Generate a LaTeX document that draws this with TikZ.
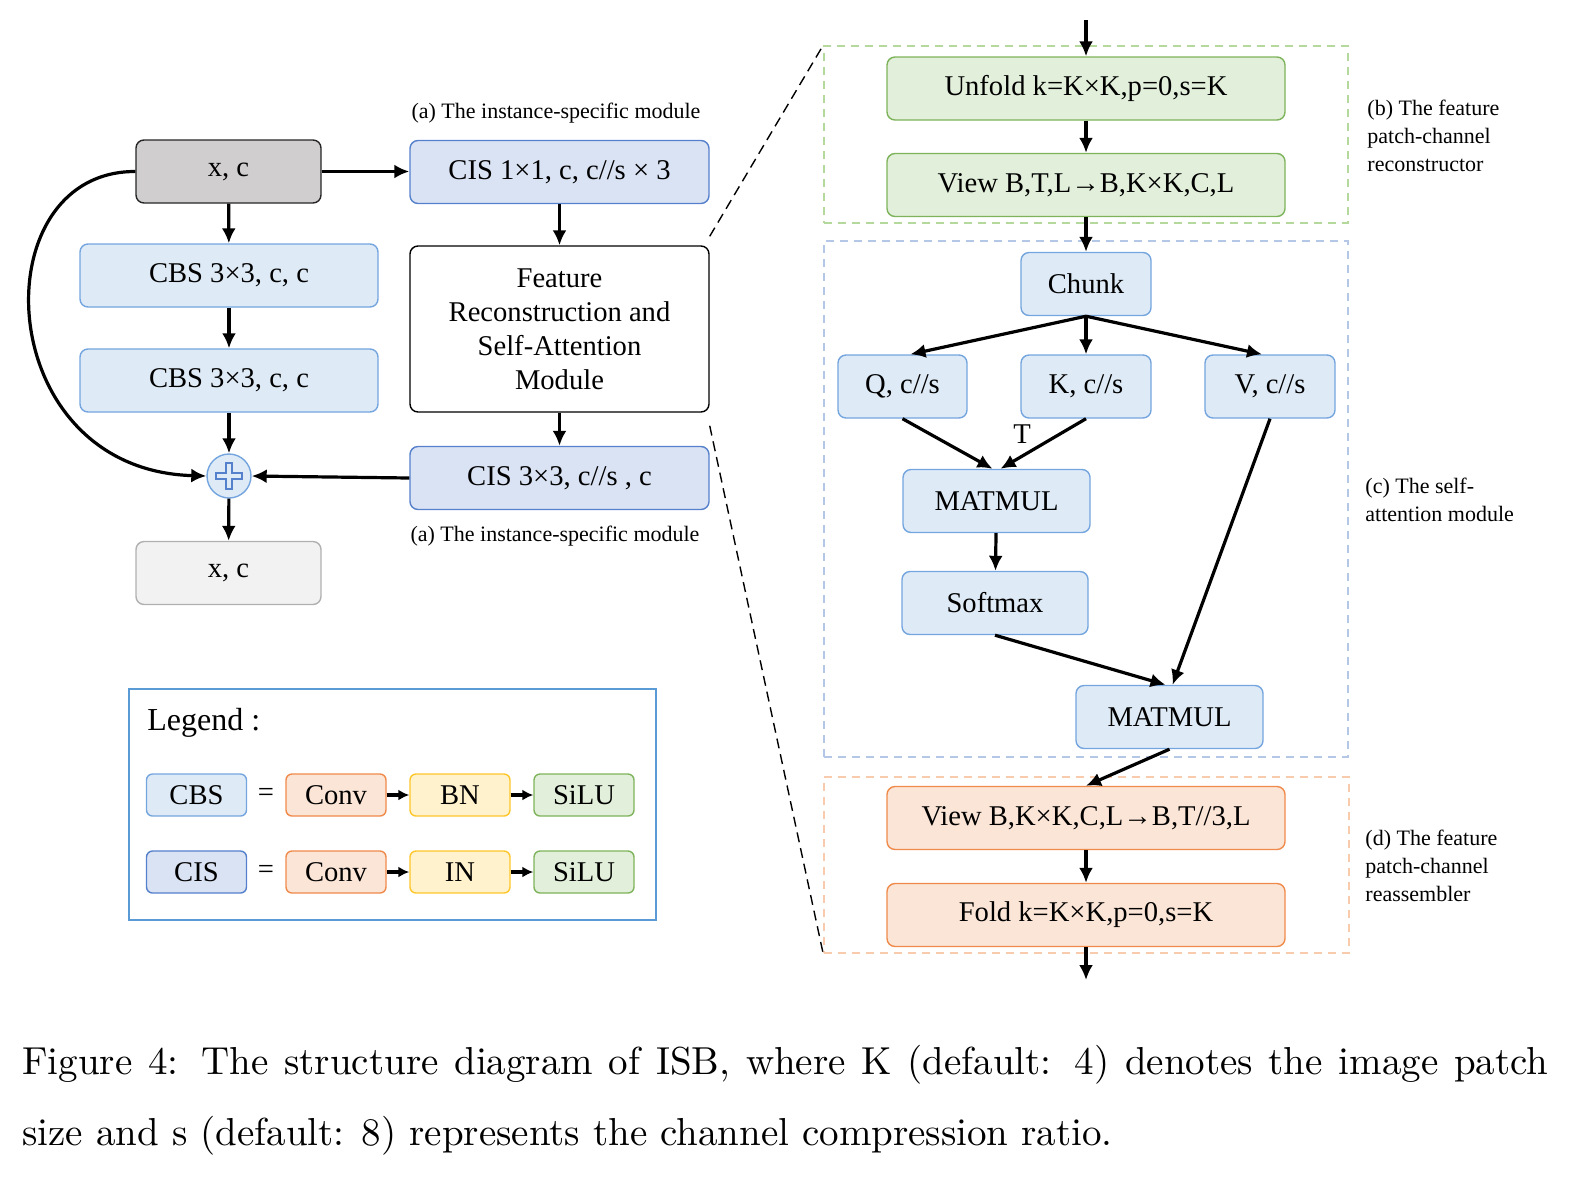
\documentclass[tikz,border=0pt]{standalone}
\usepackage{fontspec}
\usepackage{tikz}
\usetikzlibrary{arrows.meta}

\newfontfamily\tnr{Liberation Serif}
\newfontfamily\capfont[Extension=.otf]{lmroman10-regular}

\definecolor{cbsfill}{HTML}{DEEBF7}
\definecolor{cbsline}{HTML}{74A5DE}
\definecolor{cisfill}{HTML}{DAE3F3}
\definecolor{cisline}{HTML}{5580CC}
\definecolor{grnfill}{HTML}{E2EFDA}
\definecolor{grnline}{HTML}{7DB35A}
\definecolor{orgfill}{HTML}{FBE5D6}
\definecolor{orgline}{HTML}{EF8A4A}
\definecolor{yelfill}{HTML}{FFF2CC}
\definecolor{yelline}{HTML}{FFC629}
\definecolor{xinfill}{HTML}{D0CECE}
\definecolor{xoutfill}{HTML}{F2F2F2}
\definecolor{xoutline}{HTML}{B0B0B0}
\definecolor{grngrp}{HTML}{B5D99C}
\definecolor{blugrp}{HTML}{B4C7E7}
\definecolor{orggrp}{HTML}{F8CBAD}
\definecolor{legline}{HTML}{5B9BD5}

\begin{document}
\begin{tikzpicture}[x=0.5pt, y=-0.5pt,
  box/.style={draw, rounded corners=4pt, line width=0.7pt, inner sep=0pt,
    minimum height=31.5pt, font=\tnr\fontsize{14.3}{17}\selectfont},
  bluebox/.style={box, fill=cbsfill, draw=cbsline},
  cisbox/.style={box, fill=cisfill, draw=cisline},
  greenbox/.style={box, fill=grnfill, draw=grnline},
  orangebox/.style={box, fill=orgfill, draw=orgline},
  yellowbox/.style={box, fill=yelfill, draw=yelline},
  lgd/.style={minimum width=50pt, minimum height=21pt, rounded corners=3pt},
  grp/.style={draw, dashed, dash pattern=on 4pt off 3pt, line width=0.8pt},
  lbl/.style={inner sep=0pt, font=\tnr\fontsize{11}{14}\selectfont},
  arr/.style={-{Latex[length=7.5pt,width=7pt]}, line width=1.6pt},
  larr/.style={-{Latex[length=5.5pt,width=5.5pt]}, line width=1.6pt}]

  \useasboundingbox (0,0) rectangle (1593,1189);

  % left: main branch
  \node[box, fill=xinfill, draw=black!85, minimum width=92.5pt] (xin) at (228.5,171.5) {x, c};
  \node[bluebox, minimum width=149pt] (cbsa) at (229,275.5) {CBS 3×3, c, c};
  \node[bluebox, minimum width=149pt] (cbsb) at (229,380.5) {CBS 3×3, c, c};
  \node[circle, draw=cbsline, fill=cbsfill, line width=0.7pt, minimum size=22pt, inner sep=0pt] (plus) at (229,476) {};
  \draw[cisline, line width=0.6pt, shift={(plus.center)}] (-3,-13) -- (3,-13) -- (3,-3) -- (13,-3) -- (13,3) -- (3,3)
    -- (3,13) -- (-3,13) -- (-3,3) -- (-13,3) -- (-13,-3) -- (-3,-3) -- cycle;
  \node[box, fill=xoutfill, draw=xoutline, minimum width=92.5pt] (xout) at (228.5,573) {x, c};

  % middle: instance-specific module
  \node[lbl] (capa) at (556,113) {(a) The instance-specific module};
  \node[cisbox, minimum width=149.5pt] (cisa) at (559.5,172) {CIS 1×1, c, c//s × 3};
  \node[box, fill=white, draw=black, minimum width=149.5pt, minimum height=83pt, align=center] (frsa) at (559.5,329)
    {Feature\\Reconstruction and\\Self-Attention\\Module};
  \node[cisbox, minimum width=149.5pt] (cisb) at (559.5,478) {CIS 3×3, c//s , c};
  \node[lbl] (capab) at (555,536) {(a) The instance-specific module};

  \draw[arr] (xin) -- (cbsa);
  \draw[arr] (cbsa) -- (cbsb);
  \draw[arr] (cbsb) -- (plus);
  \draw[arr] (plus) -- (xout);
  \draw[arr] (xin.east) -- (xin.east -| cisa.west);
  \draw[arr] (cisa) -- (frsa);
  \draw[arr] (frsa) -- (cisb);
  \draw[arr] (cisb.west) -- (plus.east);
  \draw[arr] (xin.west) .. controls (-20,171) and (-10,470) .. (plus.west);

  % right: groups
  \node[grp, draw=grngrp, minimum width=262pt, minimum height=88.5pt] (grpb) at (1086,134.5) {};
  \node[grp, draw=blugrp, minimum width=262pt, minimum height=258pt] (grpc) at (1086,499) {};
  \node[grp, draw=orggrp, minimum width=262.5pt, minimum height=88pt] (grpd) at (1086.5,865) {};

  \draw[dashed, dash pattern=on 5pt off 3pt, line width=0.7pt] ([yshift=4.5pt]frsa.north east) -- (grpb.north west);
  \draw[dashed, dash pattern=on 5pt off 3pt, line width=0.7pt] ([yshift=-6.5pt]frsa.south east) -- (grpd.south west);

  \node[lbl, anchor=west, align=left] (capb) at (1367,136) {(b) The feature\\patch-channel\\reconstructor};
  \node[lbl, anchor=west, align=left] (capc) at (1365,500) {(c) The self-\\attention module};
  \node[lbl, anchor=west, align=left] (capd) at (1365,866) {(d) The feature\\patch-channel\\reassembler};

  % right: nodes
  \coordinate (in) at (1086,20);
  \node[greenbox, minimum width=199pt] (unfold) at (1086,88.5) {Unfold k=K×K,p=0,s=K};
  \node[greenbox, minimum width=199pt] (viewa) at (1086,185) {View B,T,L→B,K×K,C,L};
  \node[bluebox, minimum width=65pt] (chunk) at (1086,284) {Chunk};
  \node[bluebox, minimum width=64.5pt] (q) at (902.5,386.5) {Q, c//s};
  \node[bluebox, minimum width=65pt] (k) at (1086,386.5) {K, c//s};
  \node[bluebox, minimum width=65pt] (v) at (1270,386.5) {V, c//s};
  \node[bluebox, minimum width=93.5pt] (mma) at (996.5,501) {MATMUL};
  \node[bluebox, minimum width=93pt] (soft) at (995,603) {Softmax};
  \node[bluebox, minimum width=93.5pt] (mmb) at (1169.5,717) {MATMUL};
  \node[orangebox, minimum width=199pt] (viewb) at (1086,818) {View B,K×K,C,L→B,T//3,L};
  \node[orangebox, minimum width=199pt] (fold) at (1086,915) {Fold k=K×K,p=0,s=K};
  \coordinate (out) at (1086,980);
  \node[font=\tnr\fontsize{14.3}{17}\selectfont] (tlbl) at (1022,434) {T};

  \draw[arr] (in) -- (unfold);
  \draw[arr] (unfold) -- (viewa);
  \draw[arr] (viewa) -- (chunk);
  \draw[arr] (chunk.south) -- ([xshift=4pt]q.north);
  \draw[arr] (chunk) -- (k);
  \draw[arr] (chunk.south) -- ([xshift=-4pt]v.north);
  \draw[arr] (q.south) -- ([xshift=-2pt]mma.north);
  \draw[arr] (k.south) -- ([xshift=2pt]mma.north);
  \draw[arr] (mma) -- (soft);
  \draw[arr] (soft.south) -- ([xshift=-2pt]mmb.north);
  \draw[arr] (v.south) -- ([xshift=1.5pt]mmb.north);
  \draw[arr] (mmb.south) -- (viewb.north);
  \draw[arr] (viewb) -- (fold);
  \draw[arr] (fold) -- (out);

  % legend
  \node[draw=legline, line width=1.2pt, minimum width=263.5pt, minimum height=115.5pt] (legend) at (392.5,804.5) {};
  \node[anchor=west, inner sep=0pt, font=\tnr\fontsize{16}{18}\selectfont] (legtitle) at (147,723) {Legend :};

  \node[bluebox, lgd] (lcbs) at (196.5,795) {CBS};
  \node[font=\tnr\fontsize{14.3}{17}\selectfont] (leqa) at (266,795) {=};
  \node[orangebox, lgd] (lconva) at (336,795) {Conv};
  \node[yellowbox, lgd] (lbn) at (460,795) {BN};
  \node[greenbox, lgd] (lsilua) at (584,795) {SiLU};
  \draw[larr] (lconva) -- (lbn);
  \draw[larr] (lbn) -- (lsilua);

  \node[cisbox, lgd] (lcis) at (196.5,872) {CIS};
  \node[font=\tnr\fontsize{14.3}{17}\selectfont] (leqb) at (266,872) {=};
  \node[orangebox, lgd] (lconvb) at (336,872) {Conv};
  \node[yellowbox, lgd] (lin) at (460,872) {IN};
  \node[greenbox, lgd] (lsilub) at (584,872) {SiLU};
  \draw[larr] (lconvb) -- (lin);
  \draw[larr] (lin) -- (lsilub);

  % caption
  \node[anchor=base west, text width=763pt, align=justify, inner sep=0pt, font=\capfont\fontsize{19.5}{35.5}\selectfont] (caption) at (22,1074)
    {Figure 4: The structure diagram of ISB, where K (default: 4) denotes the image patch\linebreak
     size and s (default: 8) represents the channel compression ratio.};

\end{tikzpicture}
\end{document}
